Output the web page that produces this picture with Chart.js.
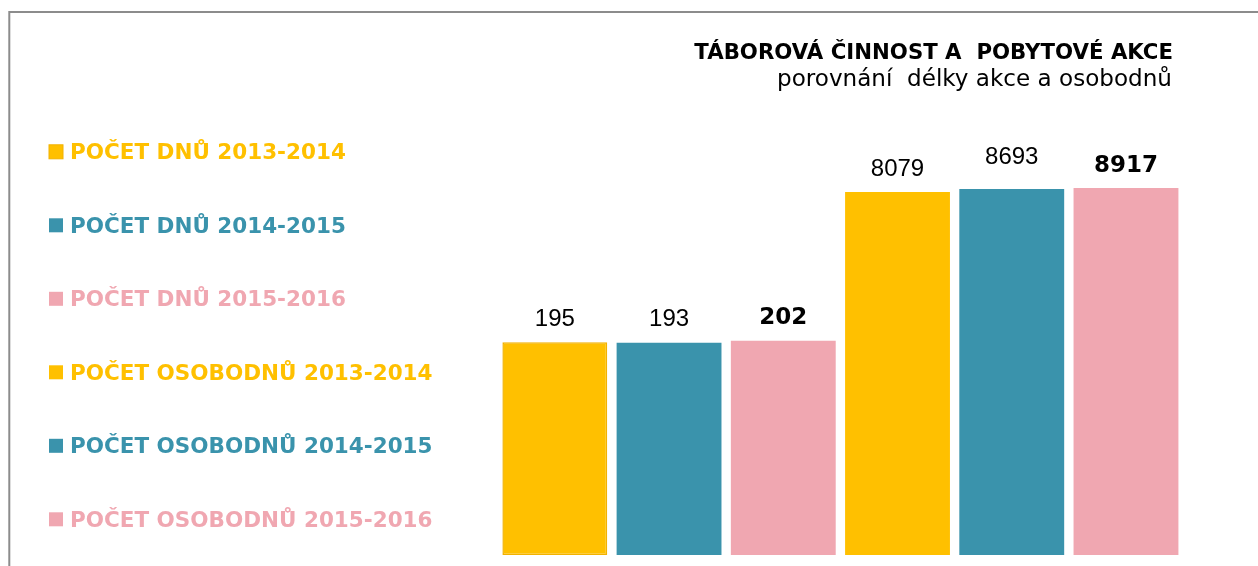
<!DOCTYPE html>
<html>
<head>
<meta charset="utf-8">
<script src="https://cdn.jsdelivr.net/npm/chart.js@4/dist/chart.umd.min.js"></script>
<style>
  html, body { margin: 0; padding: 0; background: #ffffff; }
  #wrap { position: relative; width: 1258px; height: 566px; }
  canvas { display: block; }
</style>
</head>
<body>
<div id="wrap"><canvas id="c" width="1258" height="566"></canvas></div>
<script>
// ---- data ----
const categories = ['Táborová činnost a pobytové akce'];
const seriesLabels = [
  'POČET DNŮ 2013-2014',
  'POČET DNŮ 2014-2015',
  'POČET DNŮ 2015-2016',
  'POČET OSOBODNŮ 2013-2014',
  'POČET OSOBODNŮ 2014-2015',
  'POČET OSOBODNŮ 2015-2016'
];
const seriesValues = [195, 193, 202, 8079, 8693, 8917];
const titleText = 'TÁBOROVÁ ČINNOST A  POBYTOVÉ AKCE';
const subtitleText = 'porovnání  délky akce a osobodnů';

// ---- styles ----
const seriesColors = ['#FFC000', '#3A93AC', '#F0A7B1', '#FFC000', '#3A93AC', '#F0A7B1'];
const seriesBorders = ['#F2B200', null, null, null, null, null];
const labelBold = [false, false, true, false, false, true];
const labelLift = [0, 0, 0, 0, 9, 0];

const datasets = seriesLabels.map((lab, i) => ({
  label: lab,
  data: [seriesValues[i]],
  backgroundColor: seriesColors[i],
  borderColor: seriesBorders[i] || seriesColors[i],
  borderWidth: seriesBorders[i] ? 1.5 : 0,
  borderSkipped: false,
  barPercentage: 0.918,
  categoryPercentage: 1.0
}));

function fitSize(ctx, text, weight, family, target) {
  ctx.font = weight + ' 100px ' + family;
  const w = ctx.measureText(text).width;
  return 100 * target / w;
}

const decorPlugin = {
  id: 'decor',
  beforeDraw(chart) {
    const ctx = chart.ctx;
    ctx.save();
    ctx.fillStyle = '#ffffff';
    ctx.fillRect(0, 0, chart.width, chart.height);
    // frame
    ctx.strokeStyle = '#8c8c8c';
    ctx.lineWidth = 2;
    ctx.beginPath();
    ctx.moveTo(9.3, chart.height);
    ctx.lineTo(9.3, 12);
    ctx.lineTo(chart.width, 12);
    ctx.stroke();
    ctx.restore();
  },
  afterDraw(chart) {
    const ctx = chart.ctx;
    const fam = '"DejaVu Sans", sans-serif';
    ctx.save();
    // title
    ctx.textAlign = 'right';
    ctx.textBaseline = 'alphabetic';
    ctx.fillStyle = '#000000';
    let s = fitSize(ctx, titleText, 'bold', fam, 479);
    ctx.font = 'bold ' + s + 'px ' + fam;
    ctx.fillText(titleText, 1173, 58.5);
    s = fitSize(ctx, subtitleText, 'normal', fam, 395);
    ctx.font = 'normal ' + s + 'px ' + fam;
    ctx.fillText(subtitleText, 1172, 86);

    // legend
    ctx.textAlign = 'left';
    const lsize = fitSize(ctx, seriesLabels[0], 'bold', fam, 276);
    chart.data.datasets.forEach((ds, i) => {
      const base = 159.3 + i * 73.5;
      ctx.fillStyle = ds.backgroundColor;
      ctx.fillRect(49, base - 14.5, 14, 14);
      if (seriesBorders[i]) {
        ctx.strokeStyle = seriesBorders[i];
        ctx.lineWidth = 1;
        ctx.strokeRect(49, base - 14.5, 14, 14);
      }
      ctx.font = 'bold ' + lsize + 'px ' + fam;
      ctx.fillText(ds.label, 70, base);
    });

    // value labels
    ctx.textAlign = 'center';
    ctx.fillStyle = '#000000';
    chart.data.datasets.forEach((ds, i) => {
      const meta = chart.getDatasetMeta(i);
      const bar = meta.data[0];
      const txt = String(ds.data[0]);
      if (labelBold[i]) {
        ctx.font = 'bold 23px ' + fam;
      } else {
        ctx.font = 'normal 24px "Liberation Sans", "Open Sans", sans-serif';
      }
      ctx.fillText(txt, bar.x, bar.y - 16.5 - labelLift[i]);
    });
    ctx.restore();
  }
};

new Chart(document.getElementById('c'), {
  type: 'bar',
  data: { labels: categories, datasets: datasets },
  plugins: [decorPlugin],
  options: {
    responsive: false,
    animation: false,
    layout: { padding: { left: 497.7, right: 74.9, top: 183.4, bottom: 11 } },
    plugins: {
      legend: { display: false },
      title: { display: false },
      tooltip: { enabled: false }
    },
    scales: {
      x: { display: false, grid: { display: false } },
      y: { type: 'logarithmic', min: 1, max: 10000, display: false, grid: { display: false } }
    }
  }
});
</script>
</body>
</html>
